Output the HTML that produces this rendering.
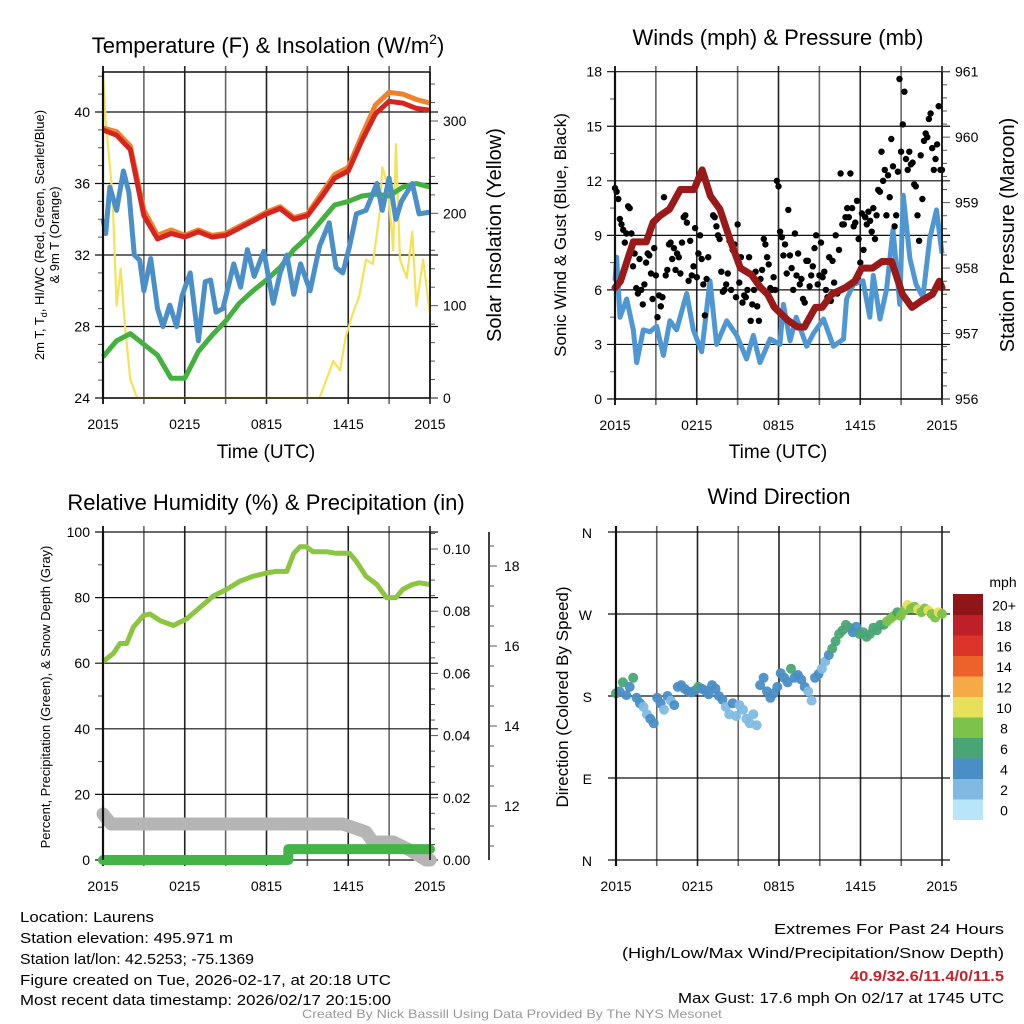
<!DOCTYPE html>
<html><head><meta charset="utf-8"><title>Mesonet Station Meteogram - Laurens</title>
<style>
html,body{margin:0;padding:0;background:#fff;}
svg{display:block;font-family:"Liberation Sans",Arial,sans-serif;}
</style></head>
<body>
<svg id="chart" width="1024" height="1024" viewBox="0 0 1024 1024" xmlns="http://www.w3.org/2000/svg">
<rect x="0" y="0" width="1024" height="1024" fill="#fff"/>
<!-- titles -->
<text x="268" y="53" font-size="22" text-anchor="middle">Temperature (F) &amp; Insolation (W/m<tspan dy="-9" font-size="14">2</tspan><tspan dy="9">)</tspan></text>
<text x="778" y="45" font-size="22" text-anchor="middle">Winds (mph) &amp; Pressure (mb)</text>
<text x="266" y="510" font-size="22" text-anchor="middle">Relative Humidity (%) &amp; Precipitation (in)</text>
<text x="779" y="504" font-size="22" text-anchor="middle">Wind Direction</text>
<!-- axis titles -->
<text x="266" y="458" font-size="19" text-anchor="middle">Time (UTC)</text>
<text x="778" y="458" font-size="19" text-anchor="middle">Time (UTC)</text>
<text transform="translate(44,235) rotate(-90)" font-size="13" text-anchor="middle">2m T, T<tspan font-size="9" dy="3">d</tspan><tspan dy="-3">, HI/WC (Red, Green, Scarlet/Blue)</tspan></text>
<text transform="translate(59,235) rotate(-90)" font-size="13" text-anchor="middle">&amp; 9m T (Orange)</text>
<text transform="translate(501,235) rotate(-90)" font-size="20" text-anchor="middle">Solar Insolation (Yellow)</text>
<text transform="translate(566,235) rotate(-90)" font-size="17" text-anchor="middle">Sonic Wind &amp; Gust (Blue, Black)</text>
<text transform="translate(1014,235) rotate(-90)" font-size="20" text-anchor="middle">Station Pressure (Maroon)</text>
<text transform="translate(50,697) rotate(-90)" font-size="13" text-anchor="middle">Percent, Precipitation (Green), &amp; Snow Depth (Gray)</text>
<text transform="translate(568,697) rotate(-90)" font-size="17" text-anchor="middle">Direction (Colored By Speed)</text>
<!-- footer -->
<g font-size="15">
<text x="20" y="922" textLength="134" lengthAdjust="spacingAndGlyphs">Location: Laurens</text>
<text x="20" y="943" textLength="213" lengthAdjust="spacingAndGlyphs">Station elevation: 495.971 m</text>
<text x="20" y="964" textLength="234" lengthAdjust="spacingAndGlyphs">Station lat/lon: 42.5253; -75.1369</text>
<text x="20" y="985" textLength="371" lengthAdjust="spacingAndGlyphs">Figure created on Tue, 2026-02-17, at 20:18 UTC</text>
<text x="20" y="1005" textLength="371" lengthAdjust="spacingAndGlyphs">Most recent data timestamp: 2026/02/17 20:15:00</text>
</g>
<g font-size="15">
<text x="774" y="934" textLength="230" lengthAdjust="spacingAndGlyphs">Extremes For Past 24 Hours</text>
<text x="622" y="958" textLength="382" lengthAdjust="spacingAndGlyphs">(High/Low/Max Wind/Precipitation/Snow Depth)</text>
<text x="850" y="981" textLength="154" lengthAdjust="spacingAndGlyphs" fill="#c8232a" font-weight="bold">40.9/32.6/11.4/0/11.5</text>
<text x="678" y="1003" textLength="326" lengthAdjust="spacingAndGlyphs">Max Gust: 17.6 mph On 02/17 at 1745 UTC</text>
</g>
<text x="512" y="1018" font-size="12" fill="#999" text-anchor="middle" textLength="420" lengthAdjust="spacingAndGlyphs">Created By Nick Bassill Using Data Provided By The NYS Mesonet</text>
<g id="plots"></g>
</svg>
<script>
// ---------- data ----------
const timeLabels = ['2015','0215','0815','1415','2015'];
// Panel 1: temperature (hourly, t=0 at 2015 UTC)
const tempRed = [39.0,38.7,37.9,34.2,32.9,33.2,33.0,33.3,33.0,33.1,33.5,33.9,34.3,34.6,34.0,34.2,35.2,36.3,36.7,38.4,39.9,40.6,40.5,40.2,40.1];
const tempOrange = [39.1,38.9,38.1,34.5,33.1,33.4,33.1,33.4,33.1,33.2,33.6,34.0,34.4,34.7,34.1,34.3,35.4,36.5,36.9,38.7,40.4,41.1,41.0,40.7,40.5];
const dewGreen = [26.3,27.2,27.6,27.0,26.4,25.1,25.1,26.6,27.5,28.3,29.3,30.0,30.6,31.3,32.3,33.0,33.9,34.8,35.0,35.3,35.4,35.3,35.8,36.0,35.8];
const chillT = [0,0.2,0.5,1.0,1.5,1.9,2.3,2.7,3.0,3.5,4.0,4.4,4.9,5.4,5.8,6.4,7.0,7.5,7.9,8.3,8.8,9.6,10.1,10.6,11.1,11.8,12.5,13.0,13.5,14.0,14.5,15.2,15.9,16.6,17.1,17.6,18.1,18.6,19.3,20.1,20.5,21.0,21.5,21.9,22.7,23.2,24.0];
const chillBlue = [34.0,33.2,35.8,34.5,36.7,35.5,32.0,31.7,30.0,31.8,29.0,28.0,29.2,28.0,29.7,31.0,27.2,30.5,30.6,28.8,29.0,31.5,30.2,32.3,30.8,32.2,29.3,31.0,32.0,29.8,31.5,30.0,32.5,33.8,31.3,31.0,32.5,34.3,34.5,36.0,34.5,36.3,34.0,35.0,36.0,34.3,34.4];
const solarT = [0,0.2,0.7,1.0,1.3,1.6,2.0,2.5,15.9,16.9,17.4,17.8,18.3,18.8,19.3,19.8,20.3,20.5,20.9,21.3,21.5,21.8,22.3,22.7,23.0,23.5,24.0];
const solarV = [350,300,220,100,140,80,20,0,0,40,30,65,90,110,150,145,200,250,230,160,275,150,130,180,100,150,90];
// Panel 2: winds & pressure
const presT = [0,0.4,1.34,2.3,2.8,3.3,4.0,4.8,5.8,6.4,7.0,7.7,8.5,9.2,10.0,10.7,11.2,11.7,12.7,13.4,13.9,14.7,15.2,15.9,16.9,17.6,18.1,18.9,19.6,20.3,21.1,21.8,22.5,23.3,23.8,24.0];
const presV = [957.7,957.8,958.4,958.4,958.7,958.8,958.9,959.2,959.2,959.5,959.1,958.9,958.4,958.0,957.9,957.7,957.6,957.4,957.2,957.1,957.1,957.4,957.4,957.6,957.7,957.8,958.0,958.0,958.1,958.1,957.6,957.4,957.5,957.6,957.8,957.7];
const windT = [0,0.12,0.37,0.86,1.34,1.59,2.08,2.56,3.06,3.55,4.03,4.52,5.26,5.75,6.36,6.97,7.46,8.2,8.93,9.66,10.15,10.64,11.38,12.1,12.36,12.85,13.3,14.07,14.56,15.3,16.03,16.77,17.0,17.5,18.2,18.7,18.96,19.45,19.93,20.4,20.9,21.15,21.65,22.1,22.6,23.1,23.6,24.0];
const windV = [6.5,7.8,4.5,5.5,3.8,2.0,3.8,3.7,4.0,2.4,4.3,3.8,5.8,3.8,2.6,6.5,3.0,4.3,3.5,2.2,3.5,2.0,3.3,3.0,5.2,3.2,4.5,2.9,3.6,4.4,2.9,3.3,5.5,6.3,6.5,4.5,6.8,4.4,6.0,9.3,5.2,11.2,7.7,6.3,5.6,8.8,10.4,8.0];
const gustV = [11.6,11.4,11.0,9.9,9.6,9.3,8.6,9.1,10.6,10.5,9.1,7.3,8.0,6.1,5.8,7.7,
6.0,5.2,6.3,7.5,8.0,7.9,6.9,5.5,8.3,6.8,4.5,5.7,5.1,5.6,11.1,6.8,
7.1,8.5,8.6,7.7,8.3,7.1,8.0,7.8,6.9,8.6,10.0,10.1,9.7,6.5,8.7,6.8,7.3,
9.4,6.7,8.0,9.0,7.7,6.3,4.6,6.6,7.8,11.3,11.1,10.1,10.0,9.5,9.0,8.8,7.0,5.9,6.0,
6.3,6.9,8.7,6.0,8.2,8.5,5.6,9.6,6.4,7.8,5.3,5.7,5.6,6.0,7.8,4.3,5.2,6.0,
7.0,5.1,4.3,6.6,7.1,8.8,8.5,7.8,7.4,6.1,6.0,6.7,6.0,12.0,11.7,9.2,8.9,
7.9,8.5,6.9,10.4,7.9,7.2,6.0,9.1,6.8,8.0,6.3,6.6,5.5,5.3,7.6,7.6,6.2,
6.8,7.3,8.3,9.0,6.3,6.8,8.6,6.7,7.0,6.0,5.6,7.8,5.4,7.6,6.4,9.0,5.8,
8.2,12.4,9.6,9.6,10.0,10.5,10.0,12.4,10.5,9.5,9.7,10.9,8.8,7.5,10.2,8.2,
10.0,9.6,10.3,9.8,9.2,10.5,8.8,10.1,11.5,11.4,13.6,12.0,12.6,10.1,12.3,11.1,14.3,12.8,
9.5,10.1,12.5,17.6,13.6,15.1,16.9,13.2,12.6,13.6,12.9,13.0,11.8,11.7,10.1,8.7,
13.4,11.0,14.2,14.6,14.4,15.4,15.7,13.8,12.6,13.2,14.0,16.1,12.6,12.6];
// Panel 3: RH, precip, snow
const rhT = [0,0.76,1.25,1.74,2.23,2.96,3.45,4.18,5.16,6.14,7.12,8.1,9.07,10.05,11.0,12.0,12.7,13.5,14.0,14.45,14.94,15.4,16.4,17.1,18.1,18.6,19.3,20.1,20.8,21.5,22.0,22.7,23.2,24.0];
const rhV = [60.5,63,66,66,71,74.5,75,73,71.5,73.5,77,80.5,82.5,85,86.5,87.5,88,88,93.5,95.5,95.5,94,94,93.5,93.5,91,86.5,84,80,80,82.5,84,84.5,84];
const precipT = [0,13.6,13.6,24];
const precipV = [0,0,0.0035,0.0035];
const snowT = [0,0.6,17.6,19.3,19.8,21.3,22.5,23.7,24];
const snowV = [11.8,11.55,11.55,11.35,11.1,11.1,10.9,10.65,10.65];
// Panel 4: wind direction (deg) & speed (mph), 15-min samples
const dirV = [183,185,195,181,190,200,178,172,168,160,155,150,
178,172,165,180,175,170,190,192,188,185,184,186,
190,188,186,182,192,188,180,176,168,160,172,158,
170,165,155,150,160,148,192,200,185,178,183,190,
205,200,195,210,200,203,198,190,185,175,200,204,
210,218,225,232,240,248,252,258,255,250,256,248,
250,245,248,255,252,258,258,262,265,268,272,268,
274,280,276,278,275,272,276,274,270,266,272,270];
const spdV = [7,5,6,4,4,7,4,4,3,3,4,4,
4,4,3,4,3,4,4,5,4,4,4,5,
6,4,4,5,4,4,4,4,3,3,4,3,
3,3,3,3,3,3,4,4,5,4,4,4,
4,4,5,6,4,4,4,4,3,3,4,4,
3,3,4,6,6,6,6,7,6,5,4,6,
6,6,6,7,7,6,7,8,8,9,7,8,
9,10,8,9,11,8,9,10,8,8,11,9];
const cbLabels = ['0','2','4','6','8','10','12','14','16','18','20+'];
const cbColors = ['#b9e5f8','#80bae3','#4a8ec6','#4aa574','#7dc24b','#e6e05a','#f5aa47','#ed622b','#dc3428','#bf1f26','#8f1518'];

// ---------- helpers ----------
const NS='http://www.w3.org/2000/svg';
const root=document.getElementById('plots');
function mk(tag,attrs,name,parent){
  const el=document.createElementNS(NS,tag);
  for(const k in attrs) el.setAttribute(k,attrs[k]);
  
  
  (parent||root).appendChild(el);
  return el;
}
function lin(d0,d1,r0,r1){return v=>r0+(v-d0)*(r1-r0)/(d1-d0);}
function path(xs,ys,fx,fy){return xs.map((x,i)=>(i?'L':'M')+fx(x).toFixed(1)+','+fy(ys[i]).toFixed(1)).join('');}
function txt(x,y,s,size,anchor,name,extra){
  const t=mk('text',Object.assign({x:x,y:y,'font-size':size,'text-anchor':anchor||'middle'},extra||{}),name);
  t.textContent=s;return t;
}
function frame(p,prefix){
  for(let h=0;h<=24;h+=3){
    const x=p.fx(h);
    mk('line',{x1:x,y1:p.top-6,x2:x,y2:p.bot+6,stroke:(h%6===0?'#222':'#666'),'stroke-width':(h===0?2:1.6)},prefix+'-vgrid');
  }
  timeLabels.forEach((s,i)=>{txt(p.fx(i*6),p.bot+31,s,14,'middle',prefix+'-x-tick-label');});
}
function hgrid(p,y,prefix){mk('line',{x1:p.x0-8,y1:y,x2:p.x1+8,y2:y,stroke:'#111','stroke-width':1.2},prefix+'-hgrid');}
function tick(x,y,len,prefix){mk('line',{x1:x,y1:y,x2:x+len,y2:y,stroke:'#555','stroke-width':1},prefix+'-tick');}

// ---------- Panel 1 ----------
(function(){
  const p={x0:103,x1:430,top:72,bot:398};
  p.fx=lin(0,24,p.x0,p.x1);
  const fy=lin(24,40,398,112), fs=lin(0,300,398,121);
  frame(p,'temp');
  for(let v=24;v<=42;v++){ if(v%4===0){hgrid(p,fy(v),'temp');txt(p.x0-13,fy(v)+5,String(v),14,'end','temp-y-tick-label');} else tick(p.x0,fy(v),-5,'temp-minor');}
  for(let v=0;v<=340;v+=20){ if(v%100===0){tick(p.x1,fs(v),8,'solar');txt(p.x1+13,fs(v)+5,String(v),14,'start','solar-y-tick-label');} else tick(p.x1,fs(v),5,'solar-minor');}
  const hrs=tempRed.map((_,i)=>i);
  mk('path',{d:path(solarT,solarV,p.fx,fs),fill:'none',stroke:'#f6e256','stroke-width':2.2,'stroke-linejoin':'round'},'solar-insolation-line');
  mk('path',{d:path(hrs,dewGreen,p.fx,fy),fill:'none',stroke:'#43b140','stroke-width':5,'stroke-linejoin':'round'},'dewpoint-line');
  mk('path',{d:path(chillT,chillBlue,p.fx,fy),fill:'none',stroke:'#4a8fc8','stroke-width':5,'stroke-linejoin':'round'},'wind-chill-line');
  mk('path',{d:path(hrs,tempOrange,p.fx,fy),fill:'none',stroke:'#f0822c','stroke-width':5,'stroke-linejoin':'round'},'temp-9m-line');
  mk('path',{d:path(hrs,tempRed,p.fx,fy),fill:'none',stroke:'#d52520','stroke-width':5,'stroke-linejoin':'round'},'temp-2m-line');
  mk('line',{x1:p.x0,y1:p.top,x2:p.x1,y2:p.top,stroke:'#111','stroke-width':1.4},'temp-frame-top');
  mk('line',{x1:p.x0,y1:p.top,x2:p.x0,y2:p.bot,stroke:'#111','stroke-width':2.2},'temp-frame-left');
  mk('line',{x1:p.x1,y1:p.top,x2:p.x1,y2:p.bot,stroke:'#111','stroke-width':1.6},'temp-frame-right');
  mk('line',{x1:p.x0,y1:p.bot,x2:p.x1,y2:p.bot,stroke:'#111','stroke-width':1.6},'temp-frame-bottom');
})();

// ---------- Panel 2 ----------
(function(){
  const p={x0:615,x1:942,top:72,bot:399};
  p.fx=lin(0,24,p.x0,p.x1);
  const fy=lin(0,18,399,71.7), fp=lin(956,961,399,71.7);
  frame(p,'wind');
  for(let v=0;v<=18;v+=1.5){ if(v%3===0){hgrid(p,fy(v),'wind');txt(p.x0-13,fy(v)+5,String(v),14,'end','wind-y-tick-label');} else tick(p.x0,fy(v),-5,'wind-minor');}
  for(let i=0;i<=25;i++){const v=956+i*0.2;const y=fp(v); if(i%5===0){tick(p.x1,y,8,'pressure');txt(p.x1+13,y+5,String(956+i/5),14,'start','pressure-y-tick-label');} else tick(p.x1,y,5,'pressure-minor');}
  mk('path',{d:path(windT,windV,p.fx,fy),fill:'none',stroke:'#4f97d2','stroke-width':5,'stroke-linejoin':'round'},'sonic-wind-line');
  const n=gustV.length;
  gustV.forEach((v,i)=>{
    mk('circle',{cx:p.fx(i*24/(n-1)).toFixed(1),cy:fy(v).toFixed(1),r:3.2,fill:'#000'},'gust-point');
  });
  mk('path',{d:path(presT,presV,p.fx,fp),fill:'none',stroke:'#9a1a1a','stroke-width':7,'stroke-linejoin':'round','stroke-linecap':'round'},'pressure-line');
  mk('line',{x1:p.x0,y1:p.top,x2:p.x0,y2:p.bot,stroke:'#111','stroke-width':2.2},'wind-frame-left');
  mk('line',{x1:p.x1,y1:p.top,x2:p.x1,y2:p.bot,stroke:'#111','stroke-width':1.6},'wind-frame-right');
  mk('line',{x1:p.x0,y1:p.bot,x2:p.x1,y2:p.bot,stroke:'#111','stroke-width':1.6},'wind-frame-bottom');
})();

// ---------- Panel 3 ----------
(function(){
  const p={x0:103,x1:430,top:532,bot:860};
  p.fx=lin(0,24,p.x0,p.x1);
  const fy=lin(0,100,860,532), fr=lin(0,0.1,860,549), fsn=lin(12,18,806,566);
  frame(p,'rh');
  for(let v=0;v<=100;v+=10){ if(v%20===0){hgrid(p,fy(v),'rh');txt(p.x0-13,fy(v)+5,String(v),14,'end','rh-y-tick-label');} else tick(p.x0,fy(v),-5,'rh-minor');}
  for(let i=0;i<=21;i++){const y=fr(i*0.005); if(i%4===0){tick(p.x1,y,8,'precip');txt(p.x1+13,y+5,(i*0.005).toFixed(2),14,'start','precip-y-tick-label');} else tick(p.x1,y,5,'precip-minor');}
  mk('line',{x1:489,y1:532,x2:489,y2:860,stroke:'#111','stroke-width':1.6},'snow-axis-line');
  for(let i=0;i<=16;i++){const v=11+i*0.5;const y=fsn(v); if(y<532||y>860) continue; if(i%4===2){tick(489,y,8,'snow');txt(504,y+5,String(v),14,'start','snow-y-tick-label');} else tick(489,y,5,'snow-minor');}
  mk('path',{d:path(snowT,snowV,p.fx,fsn),fill:'none',stroke:'#b5b5b5','stroke-width':13,'stroke-linejoin':'round','stroke-linecap':'round'},'snow-depth-line');
  mk('path',{d:path(precipT,precipV,p.fx,fr),fill:'none',stroke:'#45b447','stroke-width':10,'stroke-linejoin':'round','stroke-linecap':'round'},'precipitation-line');
  mk('path',{d:path(rhT,rhV,p.fx,fy),fill:'none',stroke:'#8cc641','stroke-width':5,'stroke-linejoin':'round'},'relative-humidity-line');
  mk('line',{x1:p.x0,y1:p.top,x2:p.x0,y2:p.bot,stroke:'#111','stroke-width':2.2},'rh-frame-left');
  mk('line',{x1:p.x1,y1:p.top,x2:p.x1,y2:p.bot,stroke:'#111','stroke-width':1.6},'rh-frame-right');
})();

// ---------- Panel 4 ----------
(function(){
  const p={x0:616,x1:942,top:532,bot:860};
  p.fx=lin(0,24,p.x0,p.x1);
  const fy=lin(0,360,860,532);
  frame(p,'dir');
  ['N','E','S','W','N'].forEach((s,i)=>{const y=fy(i*90);hgrid(p,y,'dir');txt(p.x0-24,y+6,s,14,'end','dir-y-tick-label');});
  const n=dirV.length;
  dirV.forEach((d,i)=>{
    const bin=Math.min(10,Math.floor(spdV[i]/2));
    mk('circle',{cx:p.fx(i*24/(n-1)).toFixed(1),cy:fy(d).toFixed(1),r:5,fill:cbColors[bin],'fill-opacity':0.95},'direction-point');
  });
  mk('line',{x1:p.x0,y1:p.top-6,x2:p.x0,y2:p.bot+6,stroke:'#111','stroke-width':2.2},'dir-frame-left');
  const cbTop=594, cbH=20.5;
  txt(1003,587,'mph',14,'middle','colorbar-title');
  cbLabels.forEach((s,i)=>{
    const y=cbTop+(10-i)*cbH;
    mk('rect',{x:953,y:y.toFixed(1),width:30,height:(cbH+0.5).toFixed(1),fill:cbColors[i]},'colorbar-box');
    txt(1004,y+cbH/2+6,s,14,'middle','colorbar-label');
  });
})();
</script>
</body></html>
